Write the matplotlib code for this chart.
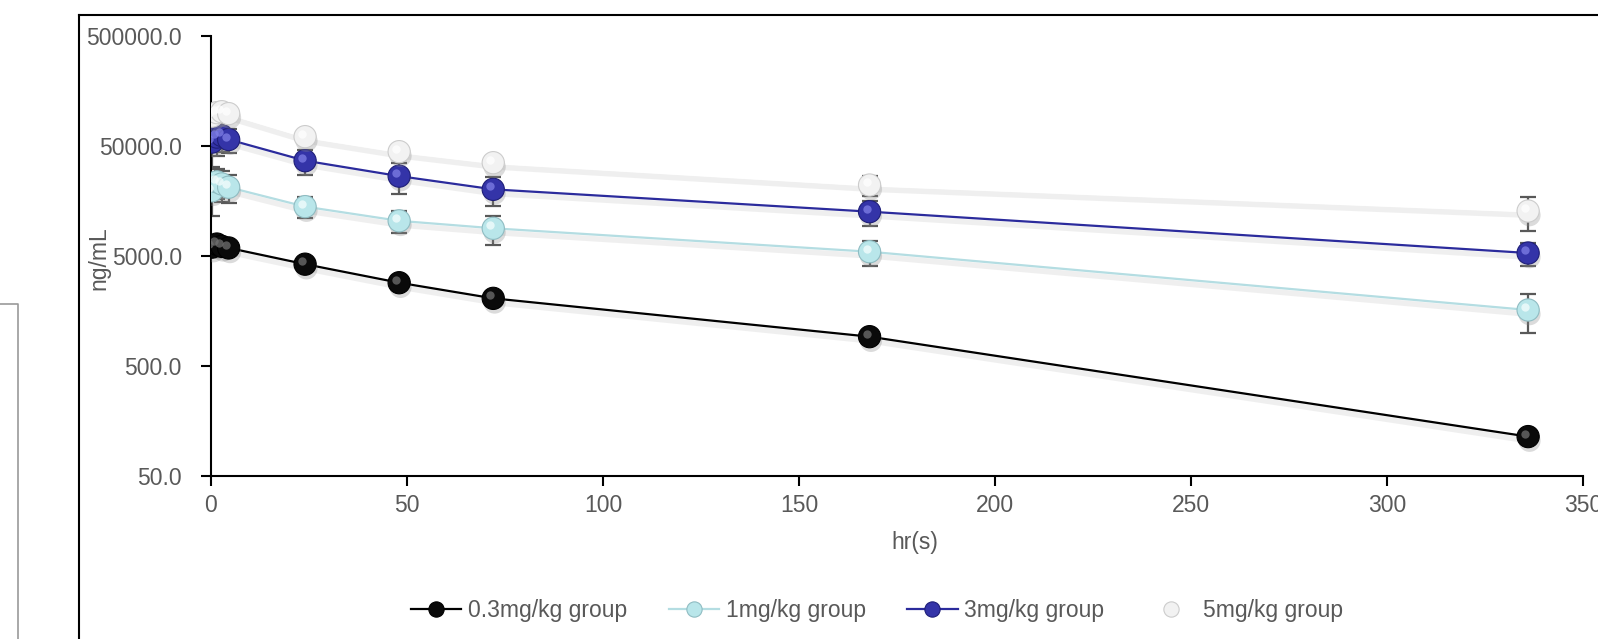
import numpy as np
import matplotlib
matplotlib.use("Agg")
import matplotlib.pyplot as plt
import matplotlib.patheffects as pe
from matplotlib.lines import Line2D
from matplotlib.transforms import offset_copy
from matplotlib.ticker import FixedLocator, FormatStrFormatter

plt.rcParams["font.family"] = ["Liberation Sans", "DejaVu Sans"]

hours = [0.25, 1.5, 2.75, 4.5, 24, 48, 72, 168, 336]

labels = ["0.3mg/kg group", "1mg/kg group", "3mg/kg group", "5mg/kg group"]
conc_03 = [6000, 6400, 6100, 5900, 4200, 2850, 2055, 922, 114]
sd_03 = [400, 400, 400, 400, 300, 200, 150, 80, 10]
conc_1 = [19500, 23500, 22500, 21000, 14000, 10400, 8900, 5450, 1611]
sd_1 = [8000, 7000, 7000, 6000, 3000, 2400, 2600, 1400, 620]
conc_3 = [54000, 60000, 62000, 57000, 36600, 26500, 20100, 12600, 5305]
sd_3 = [22000, 20000, 18000, 14000, 9600, 8300, 5900, 3200, 1300]
conc_5 = [93000, 100000, 102000, 98000, 60500, 44200, 35100, 22000, 12770]
sd_5 = [8000, 6000, 6000, 5000, 6000, 5000, 4000, 4500, 4400]

y_ticks = [50, 500, 5000, 50000, 500000]
x_ticks = [0, 50, 100, 150, 200, 250, 300, 350]

series = [conc_03, conc_1, conc_3, conc_5]
errors = [sd_03, sd_1, sd_3, sd_5]
line_colors = ["#000000", "#b4dde2", "#2b2b9c", "#ffffff"]
face_colors = ["#0a0a0a", "#b9e6ea", "#3434a8", "#f2f2f2"]
edge_colors = ["#000000", "#8fbcc2", "#1e1e78", "#cccccc"]
shine_colors = ["#707070", "#f4fdfe", "#8080e6", "#ffffff"]

grey = "#595959"
fs = 16.5

fig = plt.figure(figsize=(15.98, 6.39), dpi=100)
ax = fig.add_axes([211 / 1598, 1 - 476 / 639, (1583 - 211) / 1598, (476 - 35.7) / 639])

ax.set_yscale("log")
ax.set_ylim(50, 500000)
ax.set_xlim(0, 350)

line_shadow = [pe.SimpleLineShadow(offset=(0, -3), shadow_color="#aaaaaa", alpha=0.18, linewidth=4), pe.Normal()]
marker_shadow = [pe.SimplePatchShadow(offset=(1, -3), shadow_rgbFace="#888888", alpha=0.3), pe.Normal()]
shine_tr = offset_copy(ax.transData, fig=fig, x=-3, y=3, units="dots")

handles = []
for k in range(4):
    y = series[k]
    ax.errorbar(hours, y, yerr=errors[k], fmt="none", ecolor=grey, elinewidth=1.6,
                capsize=6, capthick=1.6, zorder=2 + k * 0.1)
    ax.plot(hours, y, color=line_colors[k], lw=1.6, zorder=3 + k * 0.1,
            path_effects=line_shadow)
    ax.plot(hours, y, ls="none", marker="o", ms=16, mfc=face_colors[k],
            mec=edge_colors[k], mew=0.8, zorder=4 + k * 0.1, path_effects=marker_shadow)
    ax.plot(hours, y, ls="none", marker="o", ms=6, mfc=shine_colors[k], mec="none",
            alpha=0.75, transform=shine_tr, zorder=4.05 + k * 0.1)
    handles.append(Line2D([], [], color=line_colors[k], lw=1.6, marker="o", ms=11,
                          mfc=face_colors[k], mec=edge_colors[k], mew=0.8))

for side in ["top", "right"]:
    ax.spines[side].set_visible(False)
for side in ["left", "bottom"]:
    ax.spines[side].set_linewidth(1.5)
    ax.spines[side].set_color("black")

ax.yaxis.set_major_locator(FixedLocator(y_ticks))
ax.yaxis.set_minor_locator(FixedLocator([]))
ax.yaxis.set_major_formatter(FormatStrFormatter("%.1f"))
ax.set_xticks(x_ticks)
ax.tick_params(axis="both", which="major", direction="out", length=7, width=1.5,
               color="black", labelcolor=grey, labelsize=fs)
ax.tick_params(axis="y", pad=14)
ax.tick_params(axis="x", pad=6)

fig.text(99 / 1598, 1 - 258 / 639, "ng/mL", rotation=90, ha="center", va="center",
         fontsize=fs, color=grey)
fig.text(915 / 1598, 1 - 543 / 639, "hr(s)", ha="center", va="center",
         fontsize=fs, color=grey)

fig.legend(handles, labels, loc="center", bbox_to_anchor=(877 / 1598, 1 - 611 / 639),
           ncol=4, frameon=False, fontsize=fs, labelcolor=grey, handlelength=2.2,
           handletextpad=0.3, columnspacing=1.8)

# outer chart frame (cut off at right and bottom) and the stray box at left
fig.add_artist(Line2D([78.5 / 1598, 1.0], [1 - 15 / 639, 1 - 15 / 639], color="black", lw=1.5))
fig.add_artist(Line2D([78.5 / 1598, 78.5 / 1598], [1 - 15 / 639, 0], color="black", lw=1.5))
fig.add_artist(Line2D([0, 18.3 / 1598, 18.3 / 1598], [1 - 304 / 639, 1 - 304 / 639, 0],
                      color="#9a9a9a", lw=1.2))

fig.savefig("out.png", dpi=100)
